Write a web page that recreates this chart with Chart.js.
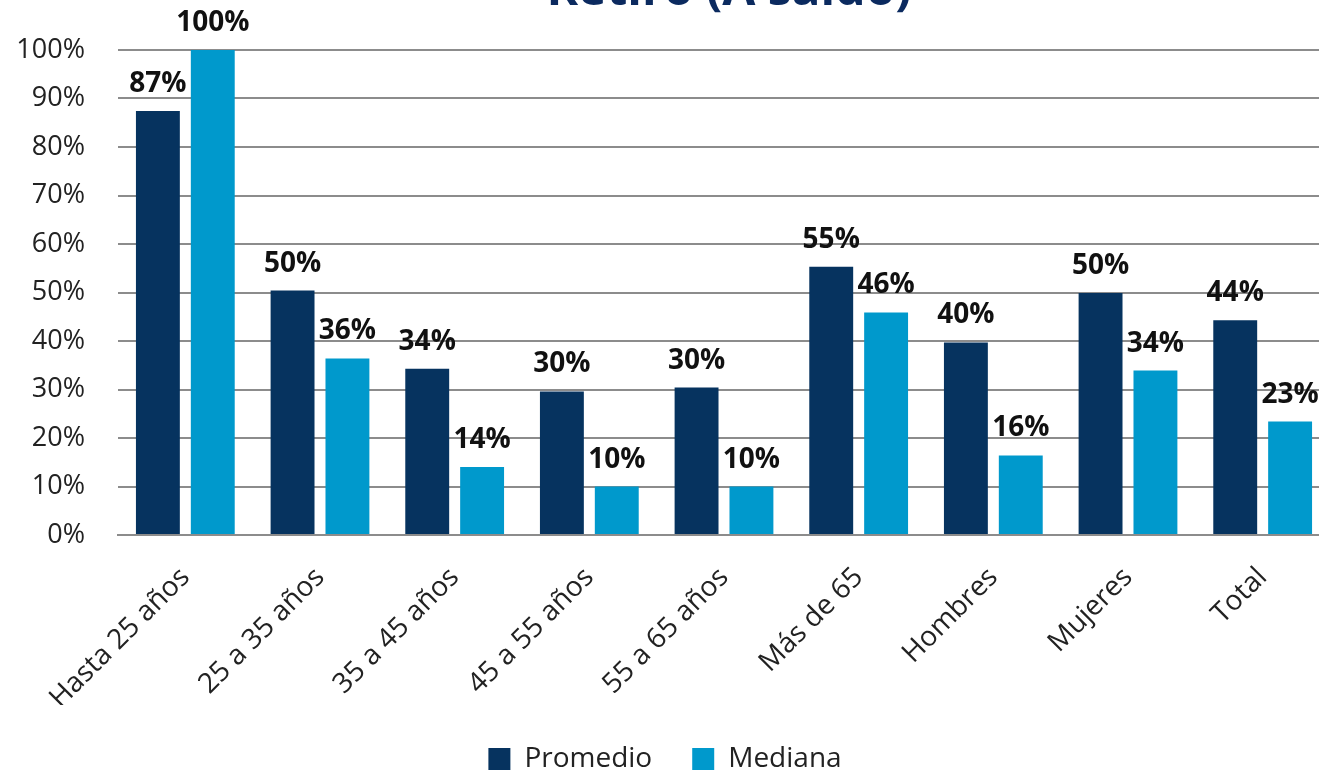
<!DOCTYPE html>
<html>
<head>
<meta charset="utf-8">
<script src="https://cdn.jsdelivr.net/npm/chart.js@4.4.1/dist/chart.umd.min.js"></script>
<style>
html, body { margin: 0; padding: 0; background: #fff; overflow: hidden; }
#wrap { position: absolute; left: 0; top: 0; width: 1330px; height: 783px; }
</style>
</head>
<body>
<div id="wrap"><canvas id="barChart" width="1330" height="783"></canvas></div>
<script>
// data
const titleText = 'Retiro (A saldo)';
const categories = ['Hasta 25 años', '25 a 35 años', '35 a 45 años', '45 a 55 años', '55 a 65 años', 'Más de 65', 'Hombres', 'Mujeres', 'Total'];
const promedio = [87.4, 50.4, 34.3, 29.6, 30.4, 55.3, 39.7, 49.9, 44.3];
const mediana = [100, 36.4, 14.0, 10.0, 10.0, 45.9, 16.4, 33.9, 23.4];
const yTicks = [0, 10, 20, 30, 40, 50, 60, 70, 80, 90, 100];

const FONT = '"Open Sans", "DejaVu Sans", sans-serif';

// title, only its lower part shows at the top of the picture
const titlePlugin = {
    id: 'topTitle',
    afterDraw(chart) {
        const ctx = chart.ctx;
        const area = chart.chartArea;
        ctx.save();
        ctx.font = 'bold 48px ' + FONT;
        ctx.fillStyle = '#0B2A5F';
        ctx.textAlign = 'center';
        ctx.textBaseline = 'alphabetic';
        ctx.fillText(titleText, (area.left + area.right) / 2 + 5, 5);
        ctx.restore();
    }
};

// value labels above each bar
const valueLabels = {
    id: 'valueLabels',
    afterDatasetsDraw(chart) {
        const ctx = chart.ctx;
        ctx.save();
        ctx.font = 'bold 28px ' + FONT;
        ctx.fillStyle = '#111';
        ctx.textAlign = 'center';
        ctx.textBaseline = 'alphabetic';
        chart.data.datasets.forEach((ds, i) => {
            const meta = chart.getDatasetMeta(i);
            meta.data.forEach((bar, j) => {
                ctx.fillText(Math.round(ds.data[j]) + '%', bar.x, bar.y - 19);
            });
        });
        ctx.restore();
    }
};

const ctxBar = document.getElementById('barChart').getContext('2d');
new Chart(ctxBar, {
    type: 'bar',
    data: {
        labels: categories,
        datasets: [
            {
                label: 'Promedio',
                data: promedio,
                backgroundColor: '#06335F',
                categoryPercentage: 0.815,
                barPercentage: 0.8
            },
            {
                label: 'Mediana',
                data: mediana,
                backgroundColor: '#0099CC',
                categoryPercentage: 0.815,
                barPercentage: 0.8
            }
        ]
    },
    options: {
        responsive: false,
        animation: false,
        devicePixelRatio: 1,
        layout: {
            padding: { top: 50, right: 0, bottom: 0, left: 0 }
        },
        plugins: {
            legend: {
                position: 'bottom',
                labels: {
                    font: { family: FONT, size: 28 },
                    color: '#222',
                    boxWidth: 22,
                    boxHeight: 22,
                    padding: 40
                }
            },
            tooltip: { enabled: false },
            title: { display: false }
        },
        scales: {
            x: {
                grid: { display: false },
                border: { color: '#8C8C8C', width: 2 },
                ticks: {
                    font: { family: FONT, size: 28 },
                    color: '#222',
                    minRotation: 45,
                    maxRotation: 45,
                    padding: 18
                },
                afterFit(scale) { scale.height = 170; }
            },
            y: {
                min: 0,
                max: 100,
                afterBuildTicks(scale) { scale.ticks = yTicks.map(v => ({ value: v })); },
                grid: { color: '#8C8C8C', lineWidth: 2, drawTicks: false },
                border: { display: false },
                ticks: {
                    font: { family: FONT, size: 27 },
                    color: '#222',
                    padding: 33,
                    callback: v => v + '%'
                },
                afterFit(scale) { scale.width = 118; }
            }
        }
    },
    plugins: [titlePlugin, valueLabels]
});
</script>
</body>
</html>
